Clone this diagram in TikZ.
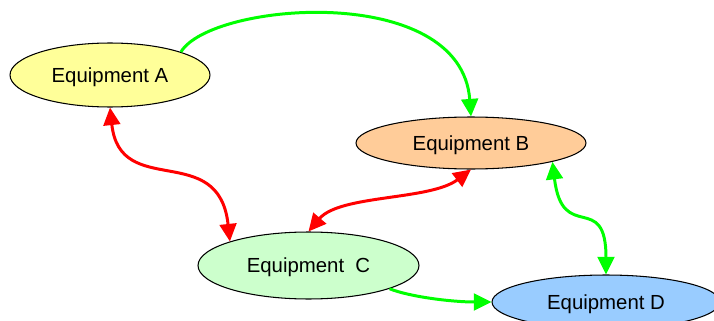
\documentclass[tikz,border=0pt]{standalone}
\usepackage{fontspec}
\setmainfont{Liberation Sans}
\usetikzlibrary{shapes.geometric, arrows.meta}
\definecolor{eqyellow}{RGB}{255,255,153}
\definecolor{eqorange}{RGB}{255,204,153}
\definecolor{eqgreen}{RGB}{204,255,204}
\definecolor{eqblue}{RGB}{153,204,255}
\definecolor{linkgreen}{RGB}{0,255,0}
\definecolor{linkred}{RGB}{255,0,0}

\begin{document}
\begin{tikzpicture}[x=0.02cm, y=-0.02cm, font=\fontsize{11.6}{14}\selectfont,
equip/.style={ellipse, draw, line width=0.6pt, inner sep=0pt, text depth=0pt},
link/.style={line width=1.7pt},
fwd/.style={link, -{Triangle[length=10pt,width=9.5pt]}},
both/.style={link, {Triangle[length=10pt,width=9.5pt]}-{Triangle[length=10pt,width=9.5pt]}},]
 \useasboundingbox (0,0) rectangle (714,321);
 \node[equip, fill=eqyellow, minimum width=4cm, minimum height=1.28cm] (eqa) at (110,75) {Equipment A};
 \node[equip, fill=eqorange, minimum width=4.6cm, minimum height=1.04cm] (eqb) at (471,143) {Equipment B};
 \node[equip, fill=eqgreen, minimum width=4.42cm, minimum height=1.34cm] (eqc) at (308.5,265.5) {Equipment\ \ C};
 \node[equip, fill=eqblue, minimum width=4.56cm, minimum height=1.08cm] (eqd) at (606,302) {Equipment D};

 \draw[fwd, linkgreen] (eqa.18) .. controls +(30,-50) and +(-10,-135) .. (eqb.north);
 \draw[both, linkred] (eqa.south) .. controls +(10,93) and +(-11,-102) .. (eqc.163);
 \draw[both, linkred] (eqc.north) .. controls +(31.5,-37) and +(-41,31) .. (eqb.south);
 \draw[both, linkgreen] (eqb.-13) .. controls +(10,83) and +(0,-85) .. (eqd.north);
 \draw[fwd, linkgreen] (eqc.-16) .. controls +(20,8) and +(-40,0) .. (eqd.west);
\end{tikzpicture}
\end{document}
